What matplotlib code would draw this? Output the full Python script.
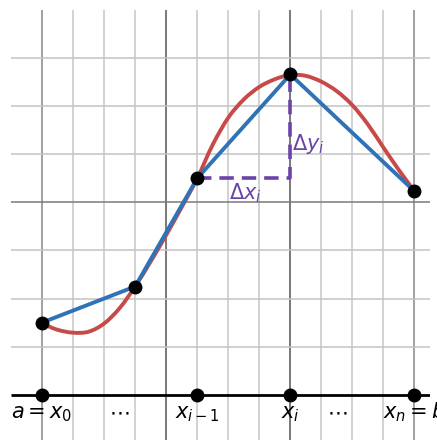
import matplotlib
matplotlib.use("Agg")
import matplotlib.pyplot as plt
from matplotlib.path import Path
from matplotlib.patches import PathPatch

# Partition points (x) and function values at them
part_x = [0, 3, 5, 8, 12]
part_y = [1.5, 2.25, 4.5, 6.66, 4.23]

# Curve samples
curve_x = [0, 0.5, 1, 1.5, 2, 2.5, 3, 3.5, 4, 4.5, 5, 5.5, 6, 6.5, 7, 7.5, 8,
           8.5, 9, 9.5, 10, 10.5, 11, 11.5, 12]
curve_y = [1.48, 1.35, 1.29, 1.31, 1.48, 1.80, 2.25, 2.77, 3.32, 3.90, 4.50,
           5.20, 5.76, 6.14, 6.40, 6.56, 6.65, 6.63, 6.51, 6.31, 6.02, 5.62,
           5.14, 4.67, 4.23]

# Axis marks shown on the x-axis
axis_pts = [0, 5, 8, 12]
axis_labels = [r"$a = x_0$", r"$x_{i-1}$", r"$x_i$", r"$x_n = b$"]
dots_x = [2.5, 9.5]

grid_x = list(range(0, 13))
grid_y = list(range(1, 8))
dark_x = {4: "#6e6e6e", 8: "#6e6e6e", 0: "#999999", 12: "#999999"}
dark_y = {4: "#7a7a7a"}

RED = "#c84a48"
BLUE = "#2f73b6"
PURPLE = "#6a44a8"


def smooth_path(xs, ys):
    """Catmull-Rom curve through the read points, as cubic Bezier path."""
    pts = list(zip(xs, ys))
    n = len(pts)
    verts = [pts[0]]
    codes = [Path.MOVETO]
    for i in range(n - 1):
        p0 = pts[i - 1] if i > 0 else pts[i]
        p1 = pts[i]
        p2 = pts[i + 1]
        p3 = pts[i + 2] if i + 2 < n else pts[i + 1]
        c1 = (p1[0] + (p2[0] - p0[0]) / 6, p1[1] + (p2[1] - p0[1]) / 6)
        c2 = (p2[0] - (p3[0] - p1[0]) / 6, p2[1] - (p3[1] - p1[1]) / 6)
        verts += [c1, c2, p2]
        codes += [Path.CURVE4] * 3
    return Path(verts, codes)


fig = plt.figure(figsize=(4.37, 4.40), dpi=100)
ax = fig.add_axes([11 / 437, 0, 419 / 437, 430 / 440])
ax.set_xlim(-1, 12.5)
ax.set_ylim(-0.942, 8.0)
ax.axis("off")

for gx in grid_x:
    ax.plot([gx, gx], [-0.942, 8.0], color=dark_x.get(gx, "#cfcfcf"),
            lw=1.3, zorder=1, solid_capstyle="butt")
for gy in grid_y:
    ax.plot([-1, 12.5], [gy, gy], color=dark_y.get(gy, "#c4c4c4"),
            lw=1.1, zorder=1, solid_capstyle="butt")

# x-axis
ax.plot([-1, 12.5], [0, 0], color="black", lw=2.0, zorder=2,
        solid_capstyle="butt")

# Curve and secant polygon
ax.add_patch(PathPatch(smooth_path(curve_x, curve_y), facecolor="none",
                       edgecolor=RED, lw=2.8, zorder=3, capstyle="round",
                       joinstyle="round"))
ax.plot(part_x, part_y, color=BLUE, lw=2.8, zorder=4,
        solid_joinstyle="round", solid_capstyle="round")

# Delta x / Delta y dashed lines
i0, i1 = 2, 3
ax.plot([part_x[i0], part_x[i1], part_x[i1]],
        [part_y[i0], part_y[i0], part_y[i1]],
        color=PURPLE, lw=2.6, ls=(0, (4.0, 2.2)), zorder=5)

ax.text(6.55, 4.07, r"$\Delta x_i$", color=PURPLE, fontsize=15,
        ha="center", va="baseline", zorder=6)
ax.text(8.06, 5.08, r"$\Delta y_i$", color=PURPLE, fontsize=15,
        ha="left", va="baseline", zorder=6)

# Points
ax.plot(part_x, part_y, "o", color="black", ms=9, zorder=7)
ax.plot(axis_pts, [0] * len(axis_pts), "o", color="black", ms=9, zorder=7,
        clip_on=False)

for px, lab in zip(axis_pts, axis_labels):
    ax.text(px, -0.5, lab, fontsize=15, ha="center", va="baseline",
            zorder=6)
for dx in dots_x:
    ax.text(dx, -0.5, r"$\cdots$", fontsize=15, ha="center",
            va="baseline", zorder=6)

fig.savefig("out.png", dpi=100)
